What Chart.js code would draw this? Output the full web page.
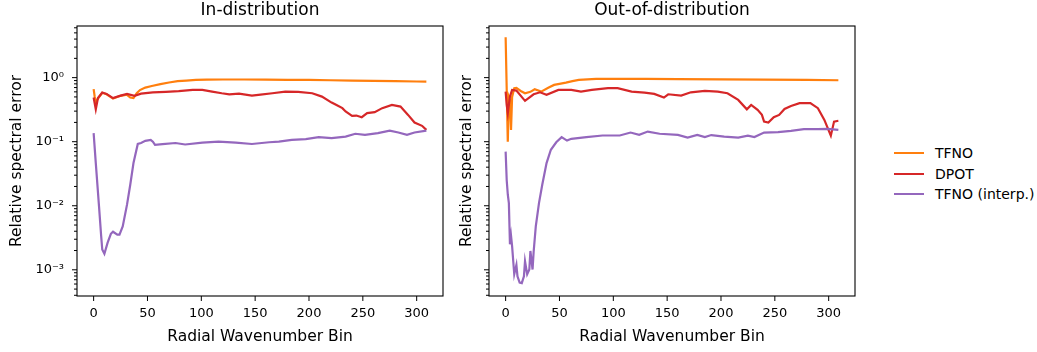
<!DOCTYPE html>
<html lang="en">
<head>
<meta charset="UTF-8">
<title>Relative spectral error</title>
<script src="https://cdn.jsdelivr.net/npm/chart.js"></script>
<style>
  body { margin: 0; background: #fff; }
  #wrap { position: relative; width: 1037px; height: 352px; font-family: "DejaVu Sans", sans-serif; }
  canvas { position: absolute; top: 0; }
  #c1 { left: 0; }
  #c2 { left: 450px; }
  #legend { position: absolute; left: 894px; top: 143px; font-size: 14px; color: #000; }
  .row { display: flex; align-items: center; height: 20.4px; }
  .swatch { width: 30px; height: 2px; margin-right: 11px; }
</style>
</head>
<body>
<div id="wrap">
  <canvas id="c1" width="450" height="352"></canvas>
  <canvas id="c2" width="420" height="352"></canvas>
  <div id="legend"></div>
</div>
<script>
// series names and colours
const seriesNames = ["TFNO", "DPOT", "TFNO (interp.)"];
const seriesColors = ["#ff7f0e", "#d62728", "#9467bd"];

// In-distribution
const idTfnoBins = [0, 1, 2, 4, 8, 12, 18, 25, 31, 34, 37, 40, 43, 48, 54, 62, 70, 78, 86, 95, 105, 120, 140, 160, 180, 200, 220, 240, 260, 280, 300, 309];
const idTfnoErr  = [0.66, 0.5, 0.42, 0.47, 0.58, 0.55, 0.47, 0.52, 0.54, 0.49, 0.48, 0.57, 0.64, 0.70, 0.74, 0.79, 0.84, 0.88, 0.90, 0.92, 0.93, 0.935, 0.935, 0.93, 0.925, 0.92, 0.91, 0.90, 0.89, 0.88, 0.87, 0.865];

const idDpotBins = [0, 2, 4, 8, 12, 18, 25, 31, 38, 44, 55, 67, 79, 92, 101, 110, 119, 126, 135, 147, 155, 166, 178, 190, 203, 212, 221, 226, 231, 234, 240, 244, 249, 254, 261, 268, 277, 285, 292, 298, 305, 309];
const idDpotErr  = [0.49, 0.32, 0.48, 0.585, 0.557, 0.48, 0.524, 0.557, 0.52, 0.563, 0.59, 0.6, 0.614, 0.643, 0.643, 0.605, 0.571, 0.55, 0.563, 0.524, 0.543, 0.571, 0.605, 0.6, 0.571, 0.506, 0.408, 0.37, 0.334, 0.296, 0.253, 0.256, 0.241, 0.279, 0.289, 0.334, 0.375, 0.353, 0.262, 0.199, 0.177, 0.153];

const idInterpBins = [0, 2, 5, 7, 8, 10, 13, 16, 18, 22, 24, 27, 31, 34, 37, 41, 44, 48, 53, 55, 57, 64, 76, 85, 101, 116, 132, 147, 163, 172, 184, 197, 209, 221, 234, 243, 252, 264, 275, 283, 291, 298, 309];
const idInterpErr  = [0.136, 0.0464, 0.00977, 0.00335, 0.00208, 0.00178, 0.00265, 0.00365, 0.00393, 0.00354, 0.00354, 0.00477, 0.0104, 0.0213, 0.0464, 0.0921, 0.0954, 0.103, 0.107, 0.1, 0.0892, 0.0914, 0.0954, 0.0904, 0.097, 0.1, 0.097, 0.092, 0.098, 0.1, 0.107, 0.11, 0.118, 0.114, 0.12, 0.133, 0.128, 0.136, 0.149, 0.139, 0.128, 0.139, 0.149];

// Out-of-distribution
const oodTfnoBins = [0, 2, 3, 4, 5, 6, 8, 10, 14, 18, 23, 27, 33, 40, 45, 50, 56, 62, 68, 76, 84, 100, 130, 160, 200, 240, 280, 309];
const oodTfnoErr  = [4.26, 0.1, 0.5, 0.45, 0.153, 0.5, 0.684, 0.69, 0.62, 0.571, 0.6, 0.66, 0.605, 0.7, 0.77, 0.8, 0.836, 0.88, 0.92, 0.94, 0.954, 0.955, 0.955, 0.95, 0.94, 0.93, 0.92, 0.91];

const oodDpotBins = [0, 1, 2, 4, 6, 10, 18, 26, 32, 38, 49, 61, 70, 80, 95, 104, 117, 129, 138, 147, 151, 163, 172, 185, 197, 206, 216, 224, 228, 234, 238, 240, 244, 249, 254, 259, 265, 273, 283, 290, 296, 302, 305, 309];
const oodDpotErr  = [0.605, 0.375, 0.279, 0.506, 0.643, 0.628, 0.434, 0.55, 0.59, 0.538, 0.643, 0.643, 0.605, 0.643, 0.684, 0.684, 0.605, 0.585, 0.557, 0.488, 0.55, 0.524, 0.59, 0.62, 0.605, 0.571, 0.449, 0.32, 0.375, 0.314, 0.262, 0.206, 0.199, 0.241, 0.262, 0.325, 0.362, 0.4, 0.4, 0.334, 0.219, 0.124, 0.206, 0.212];

const oodInterpBins = [0, 1, 2, 3, 4, 5, 6, 8, 10, 11, 13, 15, 17, 18, 20, 22, 23, 25, 26, 28, 31, 34, 38, 42, 47, 52, 57, 61, 75, 90, 106, 116, 124, 132, 143, 160, 169, 178, 185, 191, 203, 216, 225, 231, 240, 253, 265, 277, 290, 299, 309];
const oodInterpErr  = [0.07, 0.025, 0.015, 0.011, 0.0025, 0.0034, 0.00234, 0.00085, 0.00119, 0.00079, 0.00063, 0.00062, 0.00079, 0.00136, 0.00085, 0.00101, 0.00197, 0.00101, 0.0019, 0.00477, 0.0111, 0.0213, 0.0464, 0.0748, 0.098, 0.118, 0.104, 0.111, 0.118, 0.125, 0.125, 0.139, 0.128, 0.144, 0.133, 0.128, 0.116, 0.128, 0.118, 0.127, 0.12, 0.116, 0.124, 0.118, 0.139, 0.141, 0.148, 0.157, 0.157, 0.159, 0.153];

// axes
const xTickValues = [0, 50, 100, 150, 200, 250, 300];
const yMajorValues = [1e-3, 1e-2, 1e-1, 1];
const yMinorValues = [4e-4, 5e-4, 6e-4, 7e-4, 8e-4, 9e-4,
  2e-3, 3e-3, 4e-3, 5e-3, 6e-3, 7e-3, 8e-3, 9e-3,
  2e-2, 3e-2, 4e-2, 5e-2, 6e-2, 7e-2, 8e-2, 9e-2,
  0.2, 0.3, 0.4, 0.5, 0.6, 0.7, 0.8, 0.9, 2, 3, 4, 5, 6];
const xRange = [-15.45, 324.45];
const yRange = [3.9e-4, 6.4];

const FONT = "DejaVu Sans";
Chart.defaults.color = "#000";
Chart.defaults.font.family = FONT;

const supers = {"-": "\u207B", "0": "\u2070", "1": "\u00B9", "2": "\u00B2", "3": "\u00B3", "4": "\u2074"};
function powLabel(v) {
  const e = Math.round(Math.log10(v));
  if (Math.abs(Math.log10(v) - e) > 1e-6) return "";
  return "10" + String(e).split("").map(c => supers[c]).join("");
}

function pts(bins, vals) {
  return bins.map((b, i) => ({x: b, y: vals[i]}));
}

// frame, tick marks and panel title
const panelDecor = {
  id: "panelDecor",
  afterDraw(chart, args, opts) {
    const {ctx, chartArea: a, scales: {x, y}} = chart;
    ctx.save();
    ctx.strokeStyle = "#000";
    ctx.lineWidth = 1.1;
    ctx.strokeRect(a.left, a.top, a.right - a.left, a.bottom - a.top);
    ctx.lineWidth = 1;
    ctx.beginPath();
    xTickValues.forEach(v => {
      const px = x.getPixelForValue(v);
      ctx.moveTo(px, a.bottom); ctx.lineTo(px, a.bottom + 5);
    });
    yMajorValues.forEach(v => {
      const py = y.getPixelForValue(v);
      ctx.moveTo(a.left, py); ctx.lineTo(a.left - 5, py);
    });
    yMinorValues.forEach(v => {
      const py = y.getPixelForValue(v);
      ctx.moveTo(a.left, py); ctx.lineTo(a.left - 3, py);
    });
    ctx.stroke();
    ctx.fillStyle = "#000";
    ctx.font = "17px '" + FONT + "'";
    ctx.textAlign = "center";
    ctx.textBaseline = "middle";
    ctx.fillText(opts.text, (a.left + a.right) / 2, 11);
    ctx.restore();
  }
};

function makeChart(id, title, yWidth, padRight, showYLabels, sets) {
  const data = sets.map((s, i) => ({
    label: seriesNames[i],
    data: pts(s[0], s[1]),
    borderColor: seriesColors[i],
    backgroundColor: seriesColors[i],
    borderWidth: 2.2,
    pointRadius: 0,
    tension: 0,
    order: 3 - i
  }));
  return new Chart(document.getElementById(id), {
    type: "line",
    data: {datasets: data},
    plugins: [panelDecor],
    options: {
      responsive: false,
      animation: false,
      layout: {padding: {left: 0, right: padRight, top: 26, bottom: 0}},
      plugins: {
        legend: {display: false},
        tooltip: {enabled: false},
        panelDecor: {text: title}
      },
      scales: {
        x: {
          type: "linear",
          min: xRange[0], max: xRange[1],
          grid: {display: false, drawTicks: true, tickLength: 5},
          border: {display: false},
          ticks: {stepSize: 50, includeBounds: false, font: {size: 13}, padding: 5, maxRotation: 0},
          title: {display: true, text: "Radial Wavenumber Bin", font: {size: 15.5}, padding: {top: 0, bottom: 6}},
          afterFit: s => { s.height = 56; }
        },
        y: {
          type: "logarithmic",
          min: yRange[0], max: yRange[1],
          grid: {display: false, drawTicks: true, tickLength: 5},
          border: {display: false},
          afterBuildTicks: s => { s.ticks = yMajorValues.map(v => ({value: v})); },
          ticks: {display: showYLabels, autoSkip: false, font: {size: 13}, padding: 8, callback: v => powLabel(v)},
          title: {display: true, text: "Relative spectral error", font: {size: 15.5}, padding: {top: 8, bottom: 0}},
          afterFit: s => { s.width = yWidth; }
        }
      }
    }
  });
}

makeChart("c1", "In-distribution", 77, 7, true, [
  [idTfnoBins, idTfnoErr], [idDpotBins, idDpotErr], [idInterpBins, idInterpErr]
]);
makeChart("c2", "Out-of-distribution", 39, 15, false, [
  [oodTfnoBins, oodTfnoErr], [oodDpotBins, oodDpotErr], [oodInterpBins, oodInterpErr]
]);

// legend
const legend = document.getElementById("legend");
seriesNames.forEach((name, i) => {
  const row = document.createElement("div");
  row.className = "row";
  const sw = document.createElement("span");
  sw.className = "swatch";
  sw.style.background = seriesColors[i];
  const txt = document.createElement("span");
  txt.textContent = name;
  row.appendChild(sw);
  row.appendChild(txt);
  legend.appendChild(row);
});
</script>
</body>
</html>
